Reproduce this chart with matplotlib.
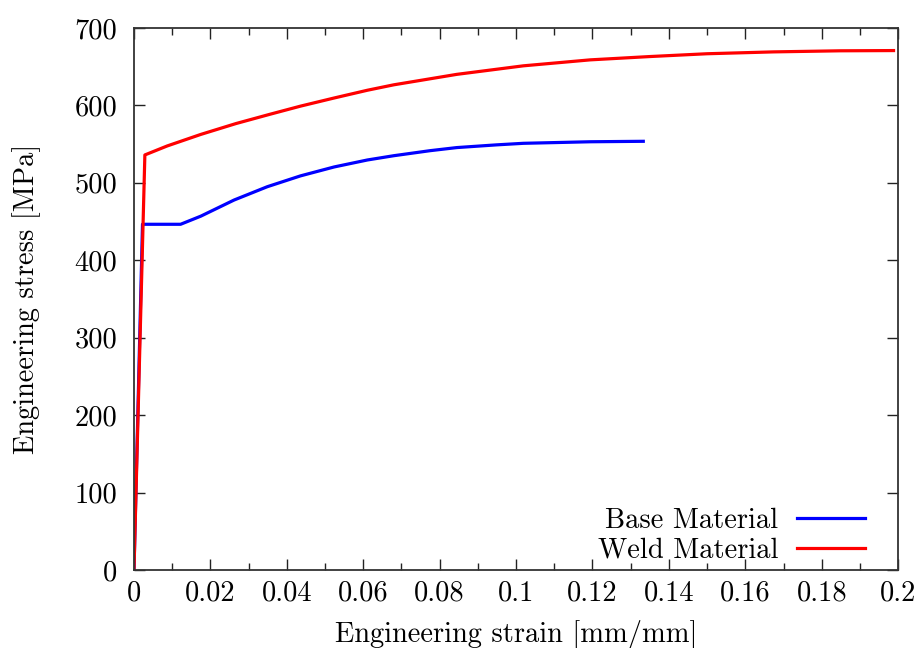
import matplotlib
matplotlib.use("Agg")
import matplotlib.pyplot as plt
from matplotlib.ticker import MultipleLocator

plt.rcParams['font.family'] = ['cmr10', 'DejaVu Serif']
plt.rcParams['mathtext.fontset'] = 'cm'
plt.rcParams['axes.formatter.use_mathtext'] = True

# Data
base_strain = [0.0, 0.00223, 0.0122, 0.0175, 0.0262, 0.0349, 0.0436, 0.0524, 0.0611,
               0.068, 0.0775, 0.0845, 0.0949, 0.1019, 0.1194, 0.1333]
base_stress = [0.0, 446.5, 446.5, 457, 477.8, 495, 509, 520.5, 529.5,
               535, 541.5, 545.5, 549, 551, 553, 553.6]

weld_strain = [0.0, 0.00285, 0.0087, 0.0175, 0.0267, 0.0356, 0.0436, 0.0524, 0.0611,
               0.068, 0.0845, 0.1019, 0.1194, 0.1351, 0.150, 0.1674, 0.1848, 0.1988]
weld_stress = [0.0, 536, 547.6, 562.5, 576.5, 588.5, 599, 609.5, 619.5,
               626.5, 640, 651, 658.7, 663, 666.6, 669, 670.4, 670.7]

x_ticks = [0, 0.02, 0.04, 0.06, 0.08, 0.1, 0.12, 0.14, 0.16, 0.18, 0.2]
x_tick_labels = ["0", "0.02", "0.04", "0.06", "0.08", "0.1", "0.12", "0.14", "0.16", "0.18", "0.2"]
y_ticks = [0, 100, 200, 300, 400, 500, 600, 700]
y_tick_labels = ["0", "100", "200", "300", "400", "500", "600", "700"]

FS = 20.5

fig = plt.figure(figsize=(9.24, 6.48), dpi=100)
ax = fig.add_axes([0.145, 0.120, 0.827, 0.837])

ax.plot(base_strain, base_stress, color='#0000ff', lw=2.3, label='Base Material')
ax.plot(weld_strain, weld_stress, color='#ff0000', lw=2.3, label='Weld Material')

ax.set_xlim(0, 0.2)
ax.set_ylim(0, 700)
ax.set_xticks(x_ticks)
ax.set_xticklabels(x_tick_labels)
ax.xaxis.set_minor_locator(MultipleLocator(0.01))
ax.set_yticks(y_ticks)
ax.set_yticklabels(y_tick_labels)

ax.tick_params(which='both', direction='in', top=True, right=True, labelsize=FS,
               colors='#222222', labelcolor='black')
ax.tick_params(which='major', length=8, width=1.0)
ax.tick_params(which='minor', length=5, width=1.0)
ax.tick_params(axis='x', which='major', pad=7)
ax.tick_params(axis='y', which='major', pad=12)

for s in ax.spines.values():
    s.set_linewidth(1.3)
    s.set_color('#333333')

ax.set_xlabel('Engineering strain [mm/mm]', fontsize=FS, labelpad=10)
ax.set_ylabel('Engineering stress [MPa]', fontsize=FS, labelpad=24)

ax.legend(loc='lower right', frameon=False, markerfirst=False, fontsize=FS,
          handlelength=2.4, handletextpad=0.63, labelspacing=0.1,
          bbox_to_anchor=(0.99, -0.035))

fig.savefig('out.png', dpi=100)
